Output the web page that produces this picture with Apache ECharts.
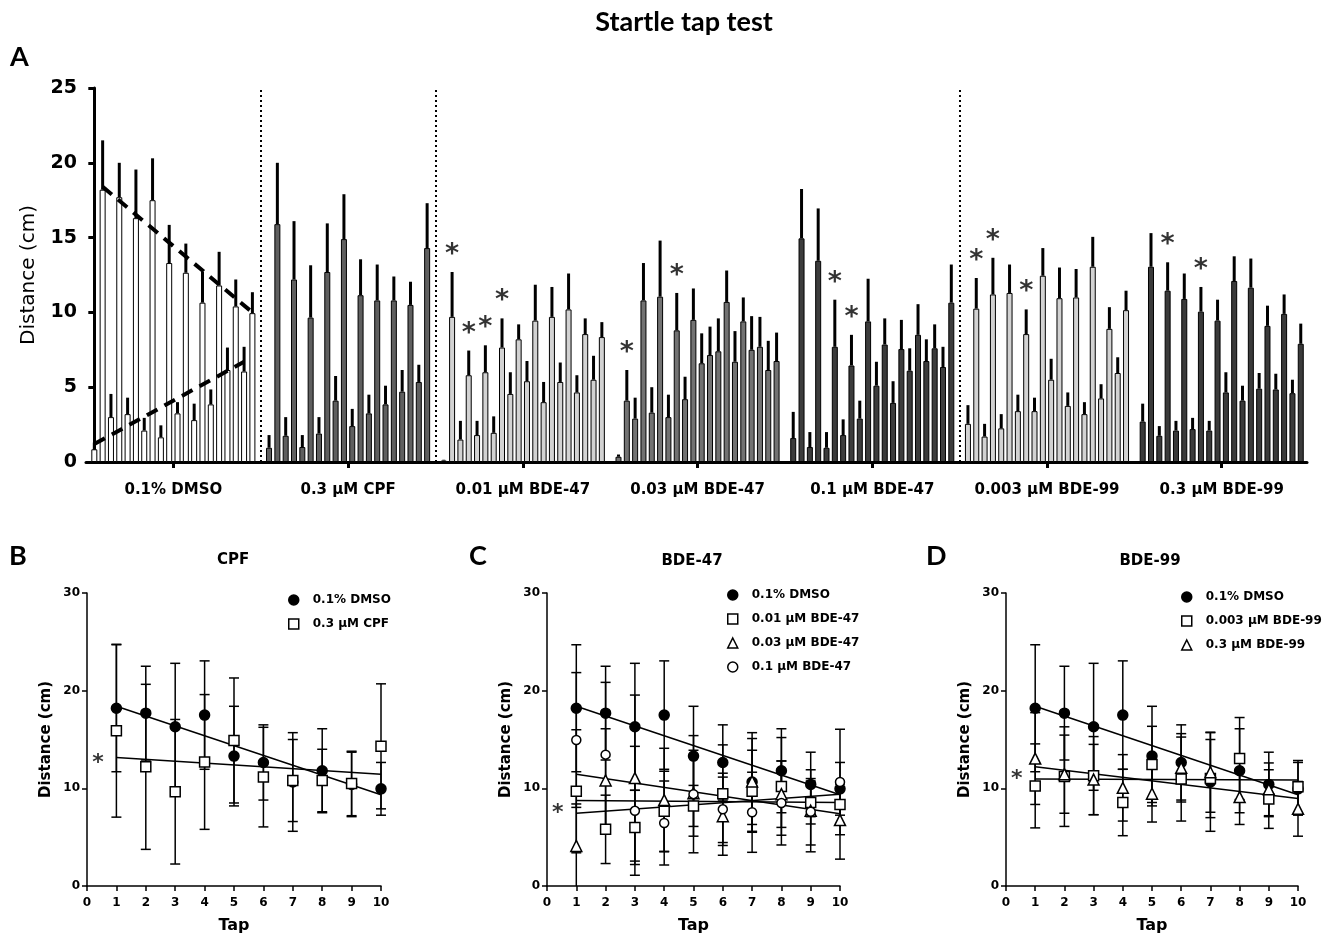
<!DOCTYPE html>
<html><head><meta charset="utf-8">
<script src="https://cdn.jsdelivr.net/npm/echarts@6/dist/echarts.min.js"></script>
<style>html,body{margin:0;padding:0;background:#fff}#c{width:1328px;height:939px}</style>
</head><body><div id="c"></div><script>
// ---------- Panel A data (bars alternate: pre-tap baseline, tap response) ----------
const groupLabels = ['0.1% DMSO','0.3 μM CPF','0.01 μM BDE-47','0.03 μM BDE-47','0.1 μM BDE-47','0.003 μM BDE-99','0.3 μM BDE-99'];
const meanDMSO = [0.85,18.2,3.0,17.7,3.2,16.3,2.1,17.5,1.65,13.3,3.25,12.65,2.8,10.65,3.85,11.8,6.15,10.4,6.05,9.95];
const semDMSO  = [0.45,3.3,1.55,2.3,1.1,3.25,0.85,2.8,0.8,2.55,0.75,1.95,1.1,2.05,1.0,2.25,1.5,1.8,1.65,1.4];
const meanCPF  = [0.95,15.9,1.75,12.2,1.0,9.65,1.9,12.7,4.1,14.9,2.4,11.15,3.25,10.8,3.85,10.8,4.7,10.5,5.35,14.3];
const semCPF   = [0.85,4.1,1.25,3.9,0.8,3.5,1.1,3.25,1.65,3.0,1.15,2.4,1.25,2.4,1.25,1.6,1.45,1.55,1.15,3.0];
const mean47a  = [0.1,9.7,1.5,5.8,1.8,6.0,1.95,7.65,4.55,8.2,5.4,9.45,4.0,9.7,5.35,10.2,4.65,8.55,5.5,8.35];
const sem47a   = [0.05,3.0,1.25,1.65,0.95,1.8,1.1,1.95,1.45,1.0,1.35,2.4,1.35,2.0,1.3,2.4,1.15,1.05,1.6,1.0];
const mean47b  = [0.35,4.1,2.9,10.8,3.3,11.05,3.0,8.8,4.2,9.5,6.6,7.15,7.4,10.7,6.7,9.4,7.5,7.7,6.15,6.75];
const sem47b   = [0.15,2.05,1.4,2.5,1.7,3.75,1.5,2.5,1.5,2.1,2.0,1.9,2.2,2.1,2.05,1.6,2.25,2.0,1.95,1.9];
const mean47c  = [1.6,14.95,1.0,13.45,0.95,7.7,1.8,6.45,2.9,9.4,5.1,7.85,3.95,7.55,6.1,8.5,6.75,7.6,6.35,10.65];
const sem47c   = [1.75,3.3,1.0,3.5,1.05,3.15,1.05,2.05,1.2,2.85,1.6,1.75,1.45,1.95,1.5,2.05,1.45,1.6,1.35,2.55];
const mean99a  = [2.55,10.25,1.7,11.2,2.25,11.3,3.4,8.55,3.4,12.45,5.5,10.95,3.75,11.0,3.2,13.05,4.25,8.9,5.95,10.15];
const sem99a   = [1.25,2.05,0.85,2.45,0.95,1.9,1.1,1.65,0.9,1.85,1.4,2.05,0.9,1.9,0.8,2.0,0.95,1.45,1.05,1.3];
const mean99b  = [2.7,13.05,1.75,11.45,2.1,10.9,2.2,10.05,2.1,9.45,4.65,12.1,4.1,11.65,4.9,9.1,4.85,9.9,4.6,7.9];
const sem99b   = [1.2,2.25,0.65,1.9,0.65,1.7,0.75,1.65,0.65,1.4,1.35,1.65,1.0,1.95,1.05,1.35,1.05,1.3,0.9,1.35];
// significance marks in panel A: [group, bar]
const starsA = [[2,1],[2,3],[2,5],[2,7],[3,1],[3,7],[4,5],[4,7],[5,1],[5,3],[5,7],[6,3],[6,7]];
// DMSO dashed trend lines in panel A: [start, end] values
const dmsoTapTrend  = [18.4, 10.0];
const dmsoBaseTrend = [1.2, 6.7];
const yTicksA = [0,5,10,15,20,25];

// ---------- Panels B-D (SD of tap responses) ----------
const sdDMSO = [6.5,4.8,6.5,5.55,5.1,3.85,5.05,4.3,3.3,2.7];
const sdCPF  = [8.85,8.45,7.4,6.9,6.4,5.1,4.2,3.2,3.3,6.4];
const sd47a  = [6.3,3.5,3.8,4.1,2.1,5.0,4.2,5.0,2.2,2.1];
const sd47b  = [4.3,5.3,8.5,5.3,4.4,4.0,4.4,3.4,4.2,4.0];
const sd47c  = [6.9,7.4,6.6,4.3,6.0,3.7,4.1,4.3,3.4,5.4];
const sd99a  = [4.3,5.1,4.0,3.4,3.9,4.3,4.0,4.2,3.0,2.7];
const sd99b  = [4.7,4.0,3.6,3.4,2.9,3.5,4.1,2.8,2.7,2.8];
// linear fits [value at tap 1, value at tap 10]
const fitDMSO = [18.4, 9.35];
const fitCPF  = [13.15, 11.45];
const fit47a  = [8.75, 8.55];
const fit47b  = [11.45, 7.4];
const fit47c  = [7.45, 9.4];
const fit99a  = [10.95, 10.85];
const fit99b  = [12.2, 8.95];
const starBCD = [13.1, 8.0, 11.4];
const taps = [1,2,3,4,5,6,7,8,9,10];

// ---------- build ----------
const meansA = [meanDMSO, meanCPF, mean47a, mean47b, mean47c, mean99a, mean99b];
const semsA  = [semDMSO, semCPF, sem47a, sem47b, sem47c, sem99a, sem99b];
const fillsA = ['#ffffff','#5f5f5f','#d2d2d2','#727272','#3c3c3c','#d2d2d2','#3a3a3a'];
const G = 21; // 20 bars + 1 gap per group
const barData = [], errA = [];
meansA.forEach((arr,g)=>arr.forEach((v,i)=>{
  barData.push({value:[g*G+i, v], itemStyle:{color:fillsA[g]}});
  errA.push([g*G+i, v, semsA[g][i]]);
}));
const tapOf = arr => arr.filter((_,i)=>i%2===1);

const FB = 'DejaVu Sans';
const series = [];
series.push({type:'bar', xAxisIndex:0, yAxisIndex:0, barWidth:6, data:barData, silent:true,
  itemStyle:{borderColor:'#000', borderWidth:1}, z:2,
  markLine:{silent:true, symbol:['none','none'], label:{show:false},
    lineStyle:{color:'#000', width:2, type:[2,3]},
    data:[{xAxis:20},{xAxis:41},{xAxis:104}]}});
series.push({type:'custom', xAxisIndex:0, yAxisIndex:0, data:errA, silent:true, z:3,
  renderItem:(p,api)=>{
    const x=api.value(0), m=api.value(1), e=api.value(2);
    const a=api.coord([x,m]), b=api.coord([x,m+e]);
    return {type:'line', shape:{x1:a[0],y1:a[1],x2:b[0],y2:b[1]}, style:{stroke:'#000', lineWidth:3}};
  }});
series.push({type:'line', xAxisIndex:0, yAxisIndex:0, silent:true, symbol:'none', z:4,
  data:[[1,dmsoTapTrend[0]],[19,dmsoTapTrend[1]]], lineStyle:{color:'#000', width:4, type:[12,8]}});
series.push({type:'line', xAxisIndex:0, yAxisIndex:0, silent:true, symbol:'none', z:4,
  data:[[0,dmsoBaseTrend[0]],[18,dmsoBaseTrend[1]]], lineStyle:{color:'#000', width:4, type:[12,8]}});
series.push({type:'scatter', xAxisIndex:0, yAxisIndex:0, silent:true, symbolSize:1, z:5,
  itemStyle:{color:'rgba(0,0,0,0)'},
  data: starsA.map(([g,i])=>[g*G+i, meansA[g][i]+semsA[g][i]]),
  label:{show:true, formatter:'*', position:'top', distance:3, fontSize:27, fontWeight:'bold', fontFamily:FB, color:'#000'}});

const panels = [
  {fits:[fitDMSO, fitCPF], items:[
    {name:'0.1% DMSO', mean:tapOf(meanDMSO), sd:sdDMSO, symbol:'circle', fill:'#000', size:10},
    {name:'0.3 μM CPF', mean:tapOf(meanCPF), sd:sdCPF, symbol:'rect', fill:'#fff', size:10}]},
  {fits:[fitDMSO, fit47a, fit47b, fit47c], items:[
    {name:'0.1% DMSO', mean:tapOf(meanDMSO), sd:sdDMSO, symbol:'circle', fill:'#000', size:10},
    {name:'0.01 μM BDE-47', mean:tapOf(mean47a), sd:sd47a, symbol:'rect', fill:'#fff', size:10},
    {name:'0.03 μM BDE-47', mean:tapOf(mean47b), sd:sd47b, symbol:'triangle', fill:'#fff', size:11},
    {name:'0.1 μM BDE-47', mean:tapOf(mean47c), sd:sd47c, symbol:'circle', fill:'#fff', size:9}]},
  {fits:[fitDMSO, fit99a, fit99b], items:[
    {name:'0.1% DMSO', mean:tapOf(meanDMSO), sd:sdDMSO, symbol:'circle', fill:'#000', size:10},
    {name:'0.003 μM BDE-99', mean:tapOf(mean99a), sd:sd99a, symbol:'rect', fill:'#fff', size:10},
    {name:'0.3 μM BDE-99', mean:tapOf(mean99b), sd:sd99b, symbol:'triangle', fill:'#fff', size:11}]}
];
const errRender = (p,api)=>{
  const x=api.value(0), m=api.value(1), s=api.value(2);
  const t=api.coord([x,m+s]), b=api.coord([x,Math.max(0,m-s)]);
  const st={stroke:'#000', lineWidth:1.5};
  const ch=[{type:'line', shape:{x1:t[0],y1:t[1],x2:b[0],y2:b[1]}, style:st},
            {type:'line', shape:{x1:t[0]-5,y1:t[1],x2:t[0]+5,y2:t[1]}, style:st}];
  if (m-s>0) ch.push({type:'line', shape:{x1:b[0]-5,y1:b[1],x2:b[0]+5,y2:b[1]}, style:st});
  return {type:'group', children:ch};
};
const legends = [];
const legendPos = [[288,594],[727,589],[1181,591]];
panels.forEach((pn,k)=>{
  const ax=k+1;
  pn.items.forEach(it=>{
    series.push({type:'custom', xAxisIndex:ax, yAxisIndex:ax, silent:true, z:3, renderItem:errRender,
      data: taps.map((t,i)=>[t, it.mean[i], it.sd[i]])});
  });
  pn.fits.forEach(f=>{
    series.push({type:'line', xAxisIndex:ax, yAxisIndex:ax, silent:true, symbol:'none', z:4,
      data:[[1,f[0]],[10,f[1]]], lineStyle:{color:'#000', width:1.5}});
  });
  pn.items.forEach(it=>{
    series.push({type:'scatter', name:it.name, xAxisIndex:ax, yAxisIndex:ax, silent:true, z:6,
      symbol:it.symbol, symbolSize:it.size,
      itemStyle:{color:it.fill, borderColor:'#000', borderWidth:1.5, opacity:1},
      data: taps.map((t,i)=>[t, it.mean[i]])});
  });
  series.push({type:'scatter', xAxisIndex:ax, yAxisIndex:ax, silent:true, symbolSize:1, z:6,
    itemStyle:{color:'rgba(0,0,0,0)'}, data:[[0.37, starBCD[k]]],
    label:{show:true, formatter:'*', position:'inside', fontSize:22, fontWeight:'bold', fontFamily:FB, color:'#000', offset:[0,5]}});
  legends.push({orient:'vertical', left:legendPos[k][0], top:legendPos[k][1], itemWidth:10, itemHeight:10,
    itemGap:12, selectedMode:false, padding:0,
    textStyle:{fontFamily:FB, fontWeight:'bold', fontSize:12, color:'#000', padding:[0,0,0,9]},
    data: pn.items.map(it=>({name:it.name, icon:it.symbol,
      itemStyle:{color:it.fill, borderColor:'#000', borderWidth:1.5}}))});
});

const smallX = i => ({gridIndex:i, type:'value', min:0, max:10, interval:1,
  name:'Tap', nameLocation:'middle', nameGap:32,
  nameTextStyle:{fontFamily:FB, fontWeight:'bold', fontSize:16, color:'#000'},
  axisLine:{lineStyle:{color:'#000', width:1.5}}, axisTick:{length:5, lineStyle:{width:1.5, color:'#000'}},
  axisLabel:{fontFamily:FB, fontWeight:'bold', fontSize:12, color:'#000', margin:11}, splitLine:{show:false}});
const smallY = i => ({gridIndex:i, type:'value', min:0, max:30, interval:10,
  name:'Distance (cm)', nameLocation:'middle', nameGap:33,
  nameTextStyle:{fontFamily:FB, fontWeight:'bold', fontSize:15, color:'#000'},
  axisLine:{show:true, lineStyle:{color:'#000', width:1.5}}, axisTick:{show:true, length:5, lineStyle:{width:1.5, color:'#000'}},
  axisLabel:{fontFamily:FB, fontWeight:'bold', fontSize:12, color:'#000', margin:7}, splitLine:{show:false}});

const centers = groupLabels.map((_,g)=>g*G+9.5);
const option = {
  animation:false, backgroundColor:'#fff',
  grid:[{left:86, top:88, width:1221, height:374},
        {left:87, top:593, width:294, height:293},
        {left:547, top:593, width:293, height:293},
        {left:1006, top:593, width:292, height:293}],
  xAxis:[{gridIndex:0, type:'value', min:-1, max:145.75,
      axisLine:{lineStyle:{color:'#000', width:3}},
      axisTick:{customValues:centers, length:6, lineStyle:{width:3, color:'#000'}},
      axisLabel:{customValues:centers, formatter:v=>groupLabels[Math.round((v-9.5)/G)],
        fontFamily:FB, fontWeight:'bold', fontSize:15, color:'#000', margin:21},
      splitLine:{show:false}},
    smallX(1), smallX(2), smallX(3)],
  yAxis:[{gridIndex:0, type:'value', min:0, max:25, interval:5,
      name:'Distance (cm)', nameLocation:'middle', nameGap:47,
      nameTextStyle:{fontFamily:FB, fontSize:20, color:'#000'},
      axisLine:{show:true, lineStyle:{color:'#000', width:3}},
      axisTick:{show:true, length:6, lineStyle:{width:3, color:'#000'}},
      axisLabel:{fontFamily:FB, fontWeight:'bold', fontSize:19, color:'#000', margin:9,
        formatter:v=>yTicksA.includes(v)?String(v):''},
      splitLine:{show:false}},
    smallY(1), smallY(2), smallY(3)],
  legend: legends,
  graphic:[
    {type:'text', x:684, y:22, style:{text:'Startle tap test', font:'bold 27px Lato', fill:'#000', align:'center', verticalAlign:'middle'}},
    {type:'text', x:10, y:57, style:{text:'A', font:'bold 27px Lato', fill:'#000', align:'left', verticalAlign:'middle'}},
    {type:'text', x:9, y:556, style:{text:'B', font:'bold 27px Lato', fill:'#000', align:'left', verticalAlign:'middle'}},
    {type:'text', x:469, y:556, style:{text:'C', font:'bold 27px Lato', fill:'#000', align:'left', verticalAlign:'middle'}},
    {type:'text', x:926, y:556, style:{text:'D', font:'bold 27px Lato', fill:'#000', align:'left', verticalAlign:'middle'}},
    {type:'text', x:233, y:560, style:{text:'CPF', font:'bold 15px "DejaVu Sans"', fill:'#000', align:'center', verticalAlign:'middle'}},
    {type:'text', x:692, y:561, style:{text:'BDE-47', font:'bold 15px "DejaVu Sans"', fill:'#000', align:'center', verticalAlign:'middle'}},
    {type:'text', x:1150, y:561, style:{text:'BDE-99', font:'bold 15px "DejaVu Sans"', fill:'#000', align:'center', verticalAlign:'middle'}}
  ],
  series: series
};
const chart = echarts.init(document.getElementById('c'));
chart.setOption(option);
</script></body></html>
